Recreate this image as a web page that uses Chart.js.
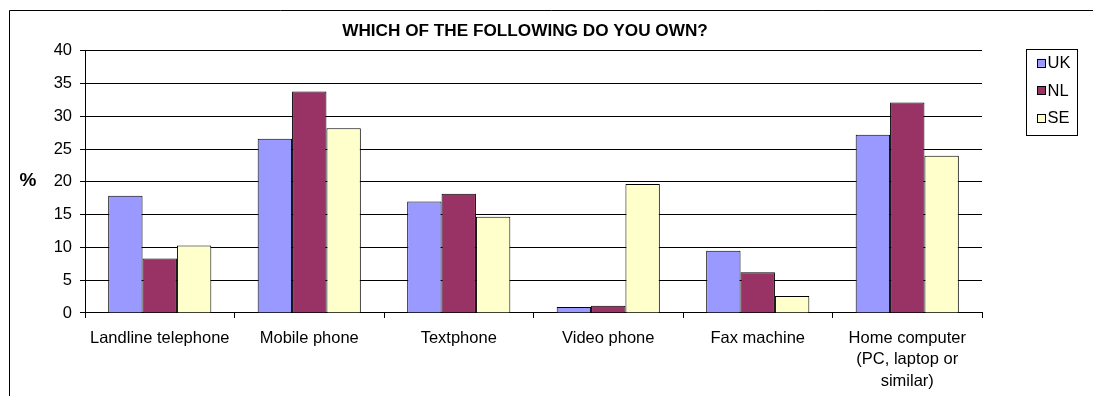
<!DOCTYPE html>
<html>
<head>
<meta charset="utf-8">
<title>Which of the following do you own?</title>
<script src="https://cdn.jsdelivr.net/npm/chart.js@4/dist/chart.umd.min.js"></script>
<style>
  html, body { margin: 0; padding: 0; background: #fff; }
  #wrap { width: 1093px; height: 396px; }
</style>
</head>
<body>
<div id="wrap"><canvas id="ownChart"></canvas></div>
<script>
const categories = [
    'Landline telephone',
    'Mobile phone',
    'Textphone',
    'Video phone',
    'Fax machine',
    ['Home computer', '(PC, laptop or', 'similar)']
];
const ukValues = [17.9, 26.6, 17.0, 0.9, 9.5, 27.2];
const nlValues = [8.3, 33.8, 18.2, 1.1, 6.2, 32.1];
const seValues = [10.3, 28.2, 14.7, 19.7, 2.6, 24.0];
const yTicks = [0, 5, 10, 15, 20, 25, 30, 35, 40];
const titleText = 'WHICH OF THE FOLLOWING DO YOU OWN?';
const yAxisLabel = '%';

Chart.defaults.font.family = "'Liberation Sans', Arial, sans-serif";
Chart.defaults.font.size = 16.5;
Chart.defaults.color = '#000';

// outer frame, the "%" label and the boxed legend
const extras = {
    id: 'extras',
    beforeDraw(chart) {
        const c = chart.ctx;
        c.save();
        c.fillStyle = '#fff';
        c.fillRect(0, 0, chart.width, chart.height);
        c.strokeStyle = '#000';
        c.lineWidth = 1;
        c.beginPath();
        c.moveTo(9.5, chart.height);
        c.lineTo(9.5, 10.5);
        c.lineTo(chart.width, 10.5);
        c.stroke();
        c.restore();
    },
    afterDraw(chart) {
        const c = chart.ctx;
        const area = chart.chartArea;
        c.save();
        c.fillStyle = '#000';
        c.font = "bold 19px 'Liberation Sans', Arial, sans-serif";
        c.textAlign = 'center';
        c.textBaseline = 'middle';
        c.fillText(yAxisLabel, 28, (area.top + area.bottom) / 2 - 1);

        const left = area.right + 44;
        const top = area.top - 2;
        c.strokeStyle = '#000';
        c.lineWidth = 1;
        c.strokeRect(Math.round(left) + 0.5, Math.round(top) + 0.5, 51, 86);
        c.font = "16.5px 'Liberation Sans', Arial, sans-serif";
        c.textAlign = 'left';
        chart.data.datasets.forEach((ds, i) => {
            const cy = top + 14 + i * 27.5;
            c.fillStyle = ds.backgroundColor;
            c.fillRect(left + 11.5, cy - 4, 8, 8);
            c.strokeStyle = '#000';
            c.strokeRect(left + 11.5, Math.round(cy - 4) + 0.5, 8, 8);
            c.fillStyle = '#000';
            c.fillText(ds.label, left + 21.5, cy + 1);
        });
        c.restore();
    }
};

const ctx = document.getElementById('ownChart').getContext('2d');
const ownChart = new Chart(ctx, {
    type: 'bar',
    data: {
        labels: categories,
        datasets: [
            { label: 'UK', data: ukValues, backgroundColor: '#9999FF' },
            { label: 'NL', data: nlValues, backgroundColor: '#993366' },
            { label: 'SE', data: seValues, backgroundColor: '#FFFFCC' }
        ]
    },
    options: {
        responsive: true,
        maintainAspectRatio: false,
        animation: false,
        layout: { padding: { left: 9, right: 52, top: 10, bottom: 0 } },
        datasets: {
            bar: {
                borderColor: '#000',
                borderWidth: 1,
                categoryPercentage: 0.69,
                barPercentage: 1.0
            }
        },
        plugins: {
            legend: { display: false },
            tooltip: { enabled: false },
            title: {
                display: true,
                text: titleText,
                font: { size: 17.2, weight: 'bold', lineHeight: 1.2 },
                padding: { top: 11, bottom: 9.2 }
            }
        },
        scales: {
            x: {
                grid: {
                    display: true,
                    drawOnChartArea: false,
                    drawTicks: true,
                    tickLength: 5,
                    color: '#000',
                    offset: true
                },
                border: { color: '#000' },
                ticks: {
                    padding: 9,
                    maxRotation: 0,
                    autoSkip: false,
                    font: { size: 16.5, lineHeight: 1.33 }
                },
                afterFit(scale) { scale.height = 83; }
            },
            y: {
                min: 0,
                max: 40,
                afterBuildTicks(scale) { scale.ticks = yTicks.map(v => ({ value: v })); },
                grid: { color: '#000', tickLength: 5 },
                border: { color: '#000' },
                ticks: { padding: 8, font: { size: 16.5 } },
                afterFit(scale) { scale.width = 76; }
            },
            gap: {
                type: 'linear',
                position: 'right',
                display: true,
                grid: { display: false },
                border: { display: false },
                ticks: { display: false },
                afterFit(scale) { scale.width = 59; }
            }
        }
    },
    plugins: [extras]
});
</script>
</body>
</html>
